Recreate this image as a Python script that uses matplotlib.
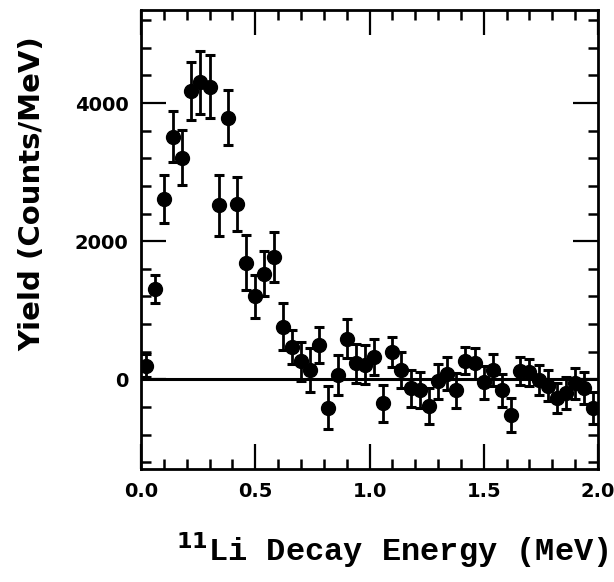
import numpy as np
import matplotlib
matplotlib.use("Agg")
import matplotlib.pyplot as plt
from matplotlib.ticker import MultipleLocator, FormatStrFormatter

# decay energy bins (MeV), yield (counts/MeV), error
energy = [0.02, 0.06, 0.10, 0.14, 0.18, 0.22, 0.26, 0.30, 0.34, 0.38,
          0.42, 0.46, 0.50, 0.54, 0.58, 0.62, 0.66, 0.70, 0.74, 0.78,
          0.82, 0.86, 0.90, 0.94, 0.98, 1.02, 1.06, 1.10, 1.14, 1.18,
          1.22, 1.26, 1.30, 1.34, 1.38, 1.42, 1.46, 1.50, 1.54, 1.58,
          1.62, 1.66, 1.70, 1.74, 1.78, 1.82, 1.86, 1.90, 1.94, 1.98]
yld = [200, 1310, 2610, 3510, 3210, 4170, 4300, 4240, 2520, 3790,
       2540, 1690, 1200, 1530, 1770, 760, 470, 260, 140, 500,
       -410, 60, 590, 230, 210, 320, -350, 400, 140, -130,
       -150, -380, -30, 80, -160, 270, 230, -40, 140, -160,
       -520, 120, 100, -10, -90, -270, -200, -60, -130, -410]
err = [170, 200, 350, 370, 400, 420, 460, 460, 440, 400,
       390, 400, 310, 330, 360, 340, 250, 280, 320, 260,
       310, 290, 280, 280, 280, 260, 270, 220, 260, 270,
       260, 260, 250, 240, 250, 200, 230, 240, 230, 240,
       250, 200, 200, 220, 230, 220, 230, 220, 230, 230]

plt.rcParams['font.weight'] = 'bold'

fig = plt.figure(figsize=(6.14, 5.82), dpi=100)
ax = fig.add_axes([0.2296, 0.194, 0.7444, 0.789])

ax.axhline(0, color='black', lw=2.2, zorder=1)
ax.errorbar(energy, yld, yerr=err, fmt='o', color='black', ms=10,
            elinewidth=2.0, capsize=3.5, capthick=2.2, zorder=3)

ax.set_xlim(0, 2.0)
ax.set_ylim(-1300, 5350)
ax.xaxis.set_major_locator(MultipleLocator(0.5))
ax.xaxis.set_minor_locator(MultipleLocator(0.1))
ax.yaxis.set_major_locator(MultipleLocator(2000))
ax.yaxis.set_minor_locator(MultipleLocator(400))
ax.xaxis.set_major_formatter(FormatStrFormatter('%.1f'))

ax.tick_params(which='both', direction='in', top=True, right=True)
ax.tick_params(which='major', length=18, width=1.6, pad=9, labelsize=14)
ax.tick_params(which='minor', length=7, width=1.8)
for s in ax.spines.values():
    s.set_linewidth(2)

fig.text(0.052, 0.668, 'Yield (Counts/MeV)', rotation=90, fontsize=21,
         fontweight='bold', ha='center', va='center')
fig.text(0.638, 0.055, r'$^{\mathbf{11}}$Li Decay Energy (MeV)', fontsize=23,
         family='Liberation Mono', fontweight='bold', ha='center', va='center')

fig.savefig('out.png', dpi=100)
